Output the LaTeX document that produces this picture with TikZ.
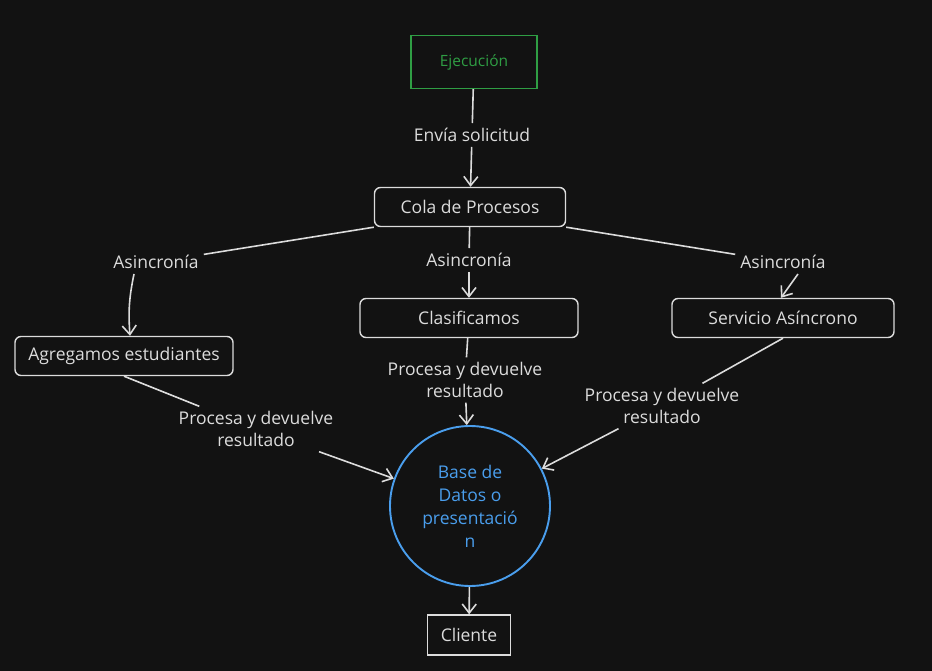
\documentclass[tikz,border=0pt]{standalone}
\usepackage{fontspec}
\setmainfont{Open Sans}
\usetikzlibrary{arrows.meta}
\definecolor{bg}{HTML}{121212}
\definecolor{ink}{HTML}{DCDCDC}
\definecolor{ejgreen}{HTML}{2F9E44}
\definecolor{dbblue}{HTML}{4A9EED}
\begin{document}
\begin{tikzpicture}[x=1pt,y=-1pt,
                    every node/.style={text=ink, font=\fontsize{17.5}{21.5}\selectfont},
                    box/.style={draw=ink, line width=1.4pt, rounded corners=6pt, minimum height=39pt, inner sep=2pt},
                    lbl/.style={align=center, inner sep=5pt},
                    link/.style={draw=ink, line width=1.6pt},
                    arr/.style={link, -{Straight Barb[length=9pt,width=14pt]}}]
  \fill[bg] (0,0) rectangle (932,671);
  \useasboundingbox (0,0) rectangle (932,671);
  \node[draw=ejgreen, text=ejgreen, line width=1.4pt, minimum width=126pt, minimum height=53pt,
        font=\fontsize{15.5}{18}\selectfont] (ejec) at (474,62) {Ejecución};
  \node[box, minimum width=191pt] (cola) at (470,207) {Cola de Procesos};
  \node[box, minimum width=218pt] (agreg) at (124,356) {Agregamos estudiantes};
  \node[box, minimum width=218pt] (clas) at (469,318) {Clasificamos};
  \node[box, minimum width=222pt] (serv) at (783,318) {Servicio Asíncrono};
  \node[draw=dbblue, text=dbblue, circle, line width=1.9pt, minimum size=160pt, align=center,
        font=\fontsize{17.5}{23}\selectfont] (db) at (470,506)
    {Base de\\Datos o\\presentació\\n};
  \node[draw=ink, line width=1.4pt, minimum width=83pt, minimum height=40pt] (cli) at (469,635) {Cliente};
  \node[lbl] (env) at (472,135) {Envía solicitud};
  \node[lbl] (asin1) at (156,262) {Asincronía};
  \node[lbl] (asin2) at (469,260) {Asincronía};
  \node[lbl] (asin3) at (783,262) {Asincronía};
  \node[lbl] (proc1) at (256,429) {Procesa y devuelve\\resultado};
  \node[lbl] (proc2) at (465,380) {Procesa y devuelve\\resultado};
  \node[lbl] (proc3) at (662,406) {Procesa y devuelve\\resultado};
  \draw[link] (ejec) -- (env);
  \draw[arr] (env) -- (cola);
  \draw[link] (cola.south west) -- (asin1);
  \draw[link] (cola) -- (asin2);
  \draw[link] (cola.south east) -- (asin3);
  \draw[arr] ([xshift=10pt]asin1.south -| agreg.north) to[bend right=8] ([xshift=6pt]agreg.north);
  \draw[arr] (asin2) -- (clas);
  \draw[arr] ([xshift=15pt]asin3.south) -- ([xshift=-2pt]serv.north);
  \draw[link] (agreg.south) -- (proc1);
  \draw[link] (clas) -- (proc2);
  \draw[link] (serv.south) -- (proc3);
  \draw[arr] (proc1) -- (db);
  \draw[arr] (proc2) -- (db);
  \draw[arr] (proc3) -- (db);
  \draw[arr] (db) -- (cli);
\end{tikzpicture}
\end{document}
